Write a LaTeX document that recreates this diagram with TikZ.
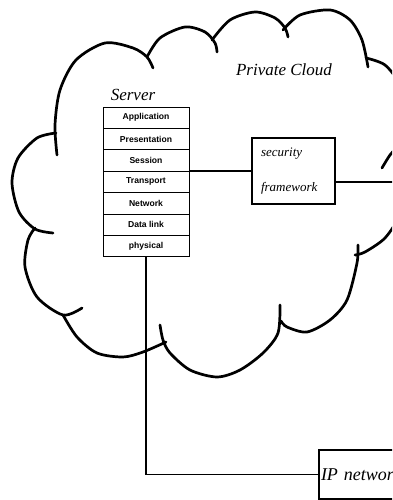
\documentclass[tikz,border=0pt]{standalone}
\usepackage{fontspec}
\setmainfont{Liberation Serif}
\setsansfont{Liberation Sans}
\usetikzlibrary{positioning}

\begin{document}
\begin{tikzpicture}
        [x=1pt, y=1pt,
        layer/.style={draw=black, line width=0.8pt, minimum width=86pt, minimum height=21.4pt,
          inner sep=0pt, outer sep=0pt, font=\sffamily\bfseries\fontsize{8.6}{10}\selectfont},
        box/.style={draw=black, line width=1.6pt, outer sep=0pt},
        caption/.style={font=\itshape\fontsize{17}{19}\selectfont},
        link/.style={line width=1.6pt},
        lobe/.style={line width=2.7pt, line cap=round}]
        \useasboundingbox (0,0) rectangle (392,500);
        \clip (0,0) rectangle (392,500);
        % cloud outline, one lobe at a time
        \draw[lobe] plot[smooth] coordinates {(56,367) (37,362) (18,342) (12,317) (19,288) (35,271) (53,267)};
        \draw[lobe] plot[smooth] coordinates {(57,345) (55,375) (60,410) (76,440) (105,457) (133,452) (147,443) (153,432)};
        \draw[lobe] plot[smooth] coordinates {(147,443) (160,462) (185,473) (205,468) (215,457) (217,448)};
        \draw[lobe] plot[smooth] coordinates {(212,460) (230,480) (255,488) (275,482) (285,472) (288,463)};
        \draw[lobe] plot[smooth] coordinates {(283,470) (300,485) (330,490) (350,480) (362,460) (368,433)};
        \draw[lobe] plot[smooth] coordinates {(366,442) (385,435) (400,415) (408,385) (402,360) (390,345) (382,332)};
        \draw[lobe] plot[smooth] coordinates {(405,350) (410,315) (400,285) (385,262) (365,248) (355,245)};
        \draw[lobe] plot[smooth] coordinates {(358,255) (357,237) (347,200) (330,180) (307,168) (287,173) (281,179)};
        \draw[lobe] plot[smooth] coordinates {(280,195) (278,167) (263,147) (240,130) (217,123) (190,130) (170,147) (163,160) (160,175)};
        \draw[lobe] plot[smooth] coordinates {(166,158) (143,148) (123,143) (97,147) (77,163) (63,185)};
        \draw[lobe] plot[smooth] coordinates {(82,192) (63,185) (37,203) (25,233) (28,260) (35,272)};
        % labels
        \node (title) at (284,430) [caption] {Private Cloud};
        \node (srv) at (133,405) [caption] {Server};
        % protocol stack
        \node (app) at (146,382.3) [layer] {Application};
        \node (pres) [layer, below=0pt of app] {Presentation};
        \node (sess) [layer, below=0pt of pres] {Session};
        \node (trans) [layer, below=0pt of sess] {Transport};
        \node (net) [layer, below=0pt of trans] {Network};
        \node (dlink) [layer, below=0pt of net] {Data link};
        \node (phys) [layer, below=0pt of dlink] {physical};
        % boxes
        \node (sec) at (293.5,329) [box, text width=65pt, inner xsep=9pt, inner ysep=0pt,
          minimum height=66pt, align=left, font=\itshape\fontsize{13}{35}\selectfont] {security\\framework};
        \node (ip) at (319,25.5) [box, anchor=west, text width=110pt, inner xsep=2pt,
          minimum height=49pt, align=left, font=\itshape\fontsize{18}{20}\selectfont] {IP network};
        \coordinate (rimR) at (400,318);
        % connectors
        \draw[link] (trans.north east) -- (trans.north east -| sec.west);
        \draw[link] (sec.east |- rimR) -- (rimR);
        \draw[link] (phys) |- (ip);
\end{tikzpicture}
\end{document}
